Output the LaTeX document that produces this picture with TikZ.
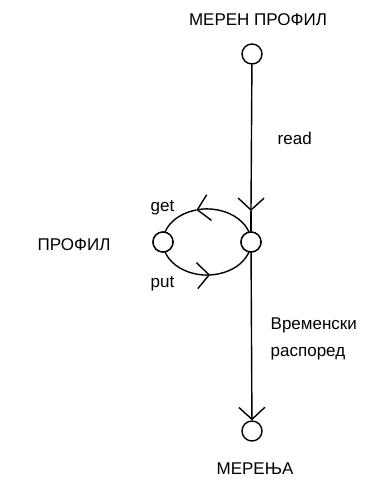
\documentclass[tikz,border=0pt]{standalone}
\usepackage{fontspec}
\setmainfont{Liberation Sans}
\usetikzlibrary{arrows.meta}
\begin{document}
\begin{tikzpicture}[x=1pt,y=1pt,
  port/.style={circle,draw,fill=white,line width=1.4pt,minimum size=20pt,inner sep=0pt},
  lbl/.style={font=\fontsize{17}{20}\selectfont,inner sep=0pt,anchor=base west},
  barbtip/.tip={Straight Barb[length=12pt,width=26pt,line width=1.4pt]},
  barb/.style={-barbtip},
  line width=1.4pt]
\useasboundingbox (0,0) rectangle (386,-488);
% nodes
\node[port] (top) at (252,-54) {};
\node[port] (r) at (251,-242) {};
\node[port] (l) at (163,-242) {};
\node[port] (bot) at (252,-431) {};
\coordinate (mid) at (251,-211);
% ellipse arcs (get above, put below)
\draw[barb] (r.center) arc[start angle=0,end angle=104,x radius=44,y radius=33] coordinate (ga);
\draw (ga) arc[start angle=104,end angle=180,x radius=44,y radius=33];
\draw[barb] (l.center) arc[start angle=180,end angle=274,x radius=44,y radius=33] coordinate (pa);
\draw (pa) arc[start angle=274,end angle=360,x radius=44,y radius=33];
% vertical connectors
\draw[barb] (top) -- (mid);
\draw (mid) -- (r);
\draw[barb] (r) -- (bot);
% circles over the arc ends
\node[port] at (r) {};
\node[port] at (l) {};
% labels
\node[lbl,anchor=base] (t1) at (258,-25) {МЕРЕН ПРОФИЛ};
\node[lbl] (t2) at (277,-144) {read};
\node[lbl] (t3) at (150,-211) {get};
\node[lbl] (t4) at (150,-287) {put};
\node[lbl] (t5) at (37,-250) {ПРОФИЛ};
\node[lbl] (t6) at (270,-329) {Временски};
\node[lbl] (t7) at (270,-356) {распоред};
\node[lbl,anchor=base] (t8) at (255,-474) {МЕРЕЊА};
\end{tikzpicture}
\end{document}
